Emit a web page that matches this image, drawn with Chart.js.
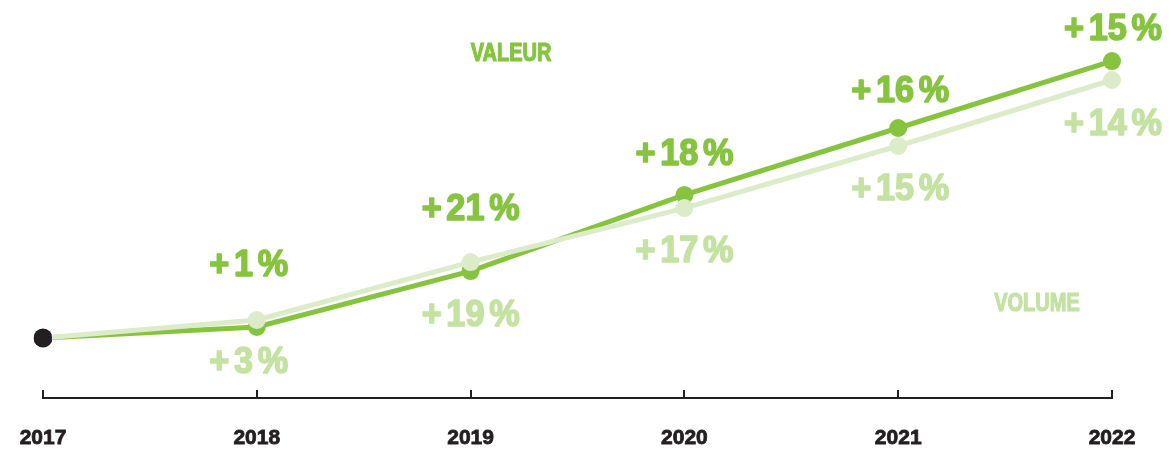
<!DOCTYPE html>
<html>
<head>
<meta charset="utf-8">
<script src="https://cdn.jsdelivr.net/npm/chart.js@4/dist/chart.umd.min.js"></script>
<style>
  html, body { margin: 0; padding: 0; background: #ffffff; }
  #wrap { width: 1170px; height: 451px; position: relative; }
</style>
</head>
<body>
<div id="wrap"><canvas id="c"></canvas></div>
<script>
// ---- data ----
const categories = ['2017', '2018', '2019', '2020', '2021', '2022'];
const valeurIndex = [100, 103.7, 122.3, 147.7, 170, 192.3];
const volumeIndex = [100, 106, 125.3, 143.3, 164, 186];
const valeurGrowth = [null, '+1%', '+21%', '+18%', '+16%', '+15%'];
const volumeGrowth = [null, '+3%', '+19%', '+17%', '+15%', '+14%'];
const seriesNames = ['VALEUR', 'VOLUME'];

// ---- style / layout ----
const DARK = '#86c440';
const LIGHT_LINE = '#dcecc9';
const LIGHT_TEXT = '#c4e2a1';
const BLACK = '#231f20';
const SANS = "'Liberation Sans', Arial, sans-serif";
// label offsets (px) from each point: [dx, dy of text centre]
const valeurLabelOffsets = [null, [-8, -64], [0, -64], [0, -43], [2, -39], [1, -34]];
const volumeLabelOffsets = [null, [-8, 40], [0, 51], [0, 41], [2, 41], [1, 42]];

// draws text horizontally squeezed, with gaps around "+" and "%"
function condensedText(ctx, text, cx, baseY, size, squeeze, gap, stroke) {
  ctx.save();
  ctx.font = 'bold ' + size + 'px ' + SANS;
  ctx.textAlign = 'left';
  ctx.textBaseline = 'alphabetic';
  const runs = text.match(/[+%]|[^+%]+/g);
  const widths = runs.map(r => ctx.measureText(r).width);
  const total = widths.reduce((a, b) => a + b, 0) + gap * (runs.length - 1);
  ctx.translate(cx, baseY);
  ctx.scale(squeeze, 1);
  let xx = -total / 2;
  if (stroke) {
    ctx.strokeStyle = ctx.fillStyle;
    ctx.lineWidth = stroke;
    ctx.lineJoin = 'round';
  }
  runs.forEach((r, i) => {
    ctx.fillText(r, xx, 0);
    if (stroke) ctx.strokeText(r, xx, 0);
    xx += widths[i] + gap;
  });
  ctx.restore();
}

const labelsPlugin = {
  id: 'growthLabels',
  afterDraw(chart) {
    const ctx = chart.ctx;
    const x = chart.scales.x;
    // upward tick marks on the axis
    ctx.save();
    ctx.strokeStyle = BLACK;
    ctx.lineWidth = 2;
    for (let i = 0; i < categories.length; i++) {
      const px = Math.round(x.getPixelForTick(i));
      ctx.beginPath();
      ctx.moveTo(px, x.top + 1);
      ctx.lineTo(px, x.top - 8);
      ctx.stroke();
    }
    ctx.restore();

    const drawSet = (dsIndex, texts, offsets, color) => {
      const meta = chart.getDatasetMeta(dsIndex);
      ctx.fillStyle = color;
      meta.data.forEach((pt, i) => {
        if (!texts[i]) return;
        const o = offsets[i];
        condensedText(ctx, texts[i], pt.x + o[0], pt.y + o[1] + 13, 36, 0.95, 5, 1.6);
      });
    };
    drawSet(1, valeurGrowth, valeurLabelOffsets, DARK);
    drawSet(0, volumeGrowth, volumeLabelOffsets, LIGHT_TEXT);

    // series names
    ctx.fillStyle = DARK;
    condensedText(ctx, seriesNames[0], 511, 61, 25, 0.8, 0, 1.2);
    ctx.fillStyle = LIGHT_TEXT;
    condensedText(ctx, seriesNames[1], 1037, 311, 25, 0.8, 0, 1.2);
  }
};

new Chart(document.getElementById('c'), {
  type: 'line',
  data: {
    labels: categories,
    datasets: [
      {
        label: seriesNames[1],
        data: volumeIndex,
        borderColor: LIGHT_LINE,
        borderWidth: 5,
        pointRadius: 9,
        pointHoverRadius: 9,
        pointBorderWidth: 0,
        pointBackgroundColor: (c) => c.dataIndex === 0 ? BLACK : LIGHT_LINE,
        tension: 0
      },
      {
        label: seriesNames[0],
        data: valeurIndex,
        borderColor: DARK,
        borderWidth: 5,
        pointRadius: (c) => c.dataIndex === 0 ? 9.5 : 9,
        pointHoverRadius: 9,
        pointBorderWidth: 0,
        pointBackgroundColor: (c) => c.dataIndex === 0 ? BLACK : DARK,
        tension: 0
      }
    ]
  },
  options: {
    responsive: true,
    maintainAspectRatio: false,
    animation: false,
    layout: { padding: { left: 43, right: 58, top: 20, bottom: 0 } },
    plugins: { legend: { display: false }, tooltip: { enabled: false } },
    scales: {
      x: {
        offset: false,
        grid: { display: false, drawTicks: false },
        border: { display: true, color: BLACK, width: 2 },
        ticks: {
          color: BLACK,
          padding: 28,
          font: { family: SANS, size: 21, weight: 'bold' },
          textStrokeColor: BLACK,
          textStrokeWidth: 0.8,
          maxRotation: 0,
          autoSkip: false
        },
        afterFit(scale) {
          scale.height = 53;
          scale.paddingLeft = 0;
          scale.paddingRight = 0;
          scale.paddingTop = 0;
          scale.paddingBottom = 0;
        }
      },
      y: {
        display: false,
        min: 80,
        max: 206
      }
    }
  },
  plugins: [labelsPlugin]
});
</script>
</body>
</html>
